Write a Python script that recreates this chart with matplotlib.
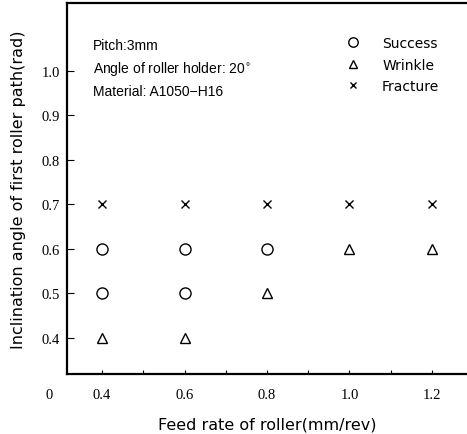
import matplotlib.pyplot as plt
from matplotlib.ticker import MultipleLocator

# Data values (feed rate mm/rev, inclination angle rad)
success_x = [0.4, 0.6, 0.8, 0.4, 0.6]
success_y = [0.6, 0.6, 0.6, 0.5, 0.5]
wrinkle_x = [1.0, 1.2, 0.8, 0.4, 0.6]
wrinkle_y = [0.6, 0.6, 0.5, 0.4, 0.4]
fracture_x = [0.4, 0.6, 0.8, 1.0, 1.2]
fracture_y = [0.7, 0.7, 0.7, 0.7, 0.7]

xticks = [0.4, 0.6, 0.8, 1.0, 1.2]
yticks = [0.4, 0.5, 0.6, 0.7, 0.8, 0.9, 1.0]
notes = ["Pitch:3mm", "Angle of roller holder: 20$^{\\circ}$", "Material: A1050\u2212H16"]

sans = "Liberation Sans"
wide = "DejaVu Sans"
serif = "Liberation Serif"

fig = plt.figure(figsize=(4.67, 4.35), dpi=100)
ax = fig.add_axes([67 / 467, 60 / 435, 400 / 467, 371 / 435])

ax.plot(success_x, success_y, linestyle="none", marker="o", markersize=8,
        markerfacecolor="none", markeredgecolor="black", markeredgewidth=1.0, label="Success")
ax.plot(wrinkle_x, wrinkle_y, linestyle="none", marker="^", markersize=7,
        markerfacecolor="none", markeredgecolor="black", markeredgewidth=1.0, label="Wrinkle")
ax.plot(fracture_x, fracture_y, linestyle="none", marker="x", markersize=5.5,
        color="black", markeredgewidth=1.0, label="Fracture")

ax.set_xlim(0.315, 1.285)
ax.set_ylim(0.319, 1.152)

ax.set_xticks(xticks)
ax.set_xticklabels([f"{v:.1f}" for v in xticks], fontfamily=serif, fontsize=10.5)
ax.xaxis.set_minor_locator(MultipleLocator(0.1))
ax.set_yticks(yticks)
ax.set_yticklabels([f"{v:.1f}" for v in yticks], fontfamily=serif, fontsize=10.5)
ax.tick_params(axis="both", which="major", direction="in", length=5, width=0.8)
ax.tick_params(axis="x", which="major", length=3, pad=10)
ax.tick_params(axis="x", which="minor", direction="in", length=3, width=0.8)
ax.tick_params(axis="y", pad=5)

for side in ["left", "bottom", "top"]:
    ax.spines[side].set_linewidth(1.6)
ax.spines["right"].set_visible(False)

ax.text(-0.045, -0.055, "0", transform=ax.transAxes, fontfamily=serif,
        fontsize=10.5, ha="center", va="center")

ax.set_xlabel("Feed rate of roller(mm/rev)", fontfamily=wide, fontsize=11.5, labelpad=11)
ax.set_ylabel("Inclination angle of first roller path(rad)", fontfamily=wide,
              fontsize=11.5, labelpad=11)

for i, note in enumerate(notes):
    ax.text(0.065, 0.887 - i * 0.062, note, transform=ax.transAxes,
            fontfamily=sans, fontsize=10, va="center", ha="left")

leg = ax.legend(loc="upper left", bbox_to_anchor=(0.68, 0.93), frameon=False,
                prop={"family": wide, "size": 10}, handletextpad=1.6,
                labelspacing=0.55, handlelength=1.0, borderpad=0, markerscale=0.85)

fig.savefig("out.png", dpi=100)
